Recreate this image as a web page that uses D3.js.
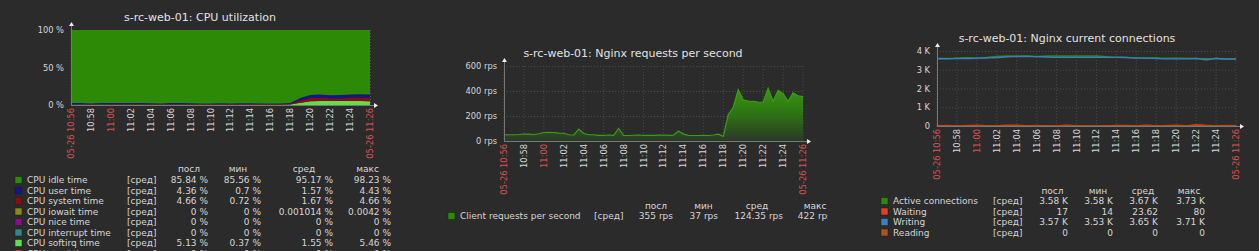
<!DOCTYPE html>
<html>
<head>
<meta charset="utf-8">
<script src="https://cdn.jsdelivr.net/npm/d3@7"></script>
<style>
  body { margin: 0; background: #2b2b2b; }
  svg { display: block; font-family: "DejaVu Sans", sans-serif; }
</style>
</head>
<body>
<div class="chart"></div>
<script>
// ---- data ----
const timeTicks = ["10:56", "10:58", "11:00", "11:02", "11:04", "11:06", "11:08", "11:10",
  "11:12", "11:14", "11:16", "11:18", "11:20", "11:22", "11:24", "11:26"];
const redTicks = ["10:56", "11:00", "11:26"];
const dayLabel = "05-26";

// cpu, one value per minute 10:56 .. 11:26 (%)
const cpuIdle = [97.45, 97.35, 98.05, 97.45, 97.45, 97.45, 97.45, 97.45, 97.55, 98.05, 97.45,
  97.45, 97.55, 98.05, 98.05, 97.65, 98.05, 97.55, 97.55, 98.15, 98.05, 97.95,
  97.3, 90.8, 86.6, 86.1, 86.9, 86.8, 85.84, 85.71, 85.85];
const cpuUser = [1.4, 1.5, 0.8, 1.4, 1.4, 1.4, 1.4, 1.4, 1.3, 0.8, 1.4, 1.4, 1.3, 0.8, 0.8, 1.2,
  0.8, 1.3, 1.3, 0.7, 0.8, 0.9, 1.0, 3.2, 4.2, 4.3, 4.2, 4.4, 4.3, 4.43, 4.36];
const cpuSystem = [0.75, 0.75, 0.75, 0.75, 0.75, 0.75, 0.75, 0.75, 0.75, 0.75, 0.75, 0.75, 0.75,
  0.75, 0.75, 0.75, 0.75, 0.75, 0.75, 0.75, 0.75, 0.75, 0.9, 3.0, 4.3, 4.4, 3.6, 3.4, 4.4, 4.66, 4.66];
const cpuIowait = [0, 0, 0, 0, 0, 0.0042, 0, 0, 0, 0, 0, 0, 0, 0, 0, 0, 0, 0, 0, 0, 0, 0, 0, 0,
  0, 0, 0, 0, 0, 0, 0];
const cpuNice = [0, 0, 0, 0, 0, 0, 0, 0, 0, 0, 0, 0, 0, 0, 0, 0, 0, 0, 0, 0, 0, 0, 0, 0, 0, 0, 0, 0, 0, 0, 0];
const cpuInterrupt = [0, 0, 0, 0, 0, 0, 0, 0, 0, 0, 0, 0, 0, 0, 0, 0, 0, 0, 0, 0, 0, 0, 0, 0, 0, 0, 0, 0, 0, 0, 0];
const cpuSoftirq = [0.4, 0.4, 0.4, 0.4, 0.4, 0.4, 0.4, 0.4, 0.4, 0.4, 0.4, 0.4, 0.4, 0.4, 0.4, 0.4,
  0.4, 0.4, 0.4, 0.4, 0.4, 0.4, 0.8, 3.0, 4.9, 5.2, 5.3, 5.4, 5.46, 5.2, 5.13];
const cpuSteal = [0, 0, 0, 0, 0, 0, 0, 0, 0, 0, 0, 0, 0, 0, 0, 0, 0, 0, 0, 0, 0, 0, 0, 0, 0, 0, 0, 0, 0, 0, 0];

const cpuNames = ["CPU idle time", "CPU user time", "CPU system time", "CPU iowait time",
  "CPU nice time", "CPU interrupt time", "CPU softirq time", "CPU steal time"];
const cpuColors = ["#2c8a07", "#14148c", "#8a0c0c", "#8a8a0c", "#8a0c8a", "#2a8a8a", "#5ee04a", "#e04a3c"];
const cpuLast = ["85.84 %", "4.36 %", "4.66 %", "0 %", "0 %", "0 %", "5.13 %", "0 %"];
const cpuMin = ["85.56 %", "0.7 %", "0.72 %", "0 %", "0 %", "0 %", "0.37 %", "0 %"];
const cpuAvg = ["95.17 %", "1.57 %", "1.67 %", "0.001014 %", "0 %", "0 %", "1.55 %", "0 %"];
const cpuMax = ["98.23 %", "4.43 %", "4.66 %", "0.0042 %", "0 %", "0 %", "5.46 %", "0 %"];

// nginx rps, one value every 30 s
const rps = [50, 50, 50, 52, 56, 55, 52, 58, 68, 70, 68, 63, 62, 50, 48, 95, 60, 50, 50, 45,
  45, 48, 45, 100, 45, 44, 46, 48, 45, 45, 45, 47, 48, 45, 46, 80, 55, 45, 44, 44,
  45, 44, 48, 55, 37, 210, 270, 410, 330, 320, 318, 312, 310, 422, 318, 405, 380, 318, 385, 362, 355];
const rpsNames = ["Client requests per second"];
const rpsLast = ["355 rps"], rpsMin = ["37 rps"], rpsAvg = ["124.35 rps"], rpsMax = ["422 rps"];

// nginx connections, one value per minute
const connActive = [3600, 3600, 3610, 3640, 3620, 3660, 3710, 3730, 3730, 3730, 3710, 3730, 3730,
  3730, 3730, 3730, 3730, 3700, 3670, 3660, 3640, 3620, 3630, 3610, 3610, 3610, 3600, 3590, 3600, 3580, 3580];
const connWriting = [3590, 3590, 3600, 3600, 3610, 3630, 3650, 3690, 3700, 3710, 3700, 3680, 3670,
  3670, 3670, 3670, 3670, 3660, 3660, 3650, 3620, 3620, 3600, 3580, 3580, 3580, 3600, 3530, 3600, 3570, 3570];
const connWaiting = [17, 40, 14, 30, 45, 14, 14, 50, 50, 14, 40, 14, 14, 45, 14, 14, 14, 14, 40, 40,
  14, 50, 14, 30, 50, 20, 80, 40, 14, 40, 17];
const connReading = [0, 0, 0, 0, 0, 0, 0, 0, 0, 0, 0, 0, 0, 0, 0, 0, 0, 0, 0, 0, 0, 0, 0, 0, 0, 0, 0, 0, 0, 0, 0];
const connNames = ["Active connections", "Waiting", "Writing", "Reading"];
const connColors = ["#2c8a07", "#e0401c", "#3a7fc0", "#a8541c"];
const connLast = ["3.58 K", "17", "3.57 K", "0"];
const connMin = ["3.58 K", "14", "3.53 K", "0"];
const connAvg = ["3.67 K", "23.62", "3.65 K", "0"];
const connMax = ["3.73 K", "80", "3.71 K", "0"];

const cpuTicks = [0, 50, 100];
const rpsTicks = [0, 200, 400, 600];
const connTicks = [0, 1000, 2000, 3000, 4000];

// ---- setup ----
const W = 1259, H = 251;
const textColor = "#d6d6d6", redColor = "#d9534f", gridColor = "#4a4a4a", axisColor = "#777";
const parseT = d3.timeParse("%H:%M");
const t0 = parseT("10:56"), t1 = parseT("11:26");
const perMinute = d3.timeMinute.range(t0, d3.timeSecond.offset(t1, 1));
const perHalfMinute = d3.timeSecond.every(30).range(t0, d3.timeSecond.offset(t1, 1));

const svg = d3.select(".chart").append("svg").attr("width", W).attr("height", H);
svg.append("rect").attr("width", W).attr("height", H).attr("fill", "#2b2b2b");
const defs = svg.append("defs");

function frame(g, p, yScale, ticks, fmt, title) {
  const x = d3.scaleTime().domain([t0, t1]).range([p.x0, p.x1]);

  g.append("text").attr("x", p.tx).attr("y", p.ty)
    .attr("text-anchor", "middle").attr("dominant-baseline", "central")
    .attr("font-size", 11).attr("fill", "#e2e2e2").text(title);

  // grid
  g.append("g").selectAll("line").data(timeTicks).join("line")
    .attr("x1", d => x(parseT(d))).attr("x2", d => x(parseT(d)))
    .attr("y1", p.y0).attr("y2", p.y1)
    .attr("stroke", gridColor).attr("stroke-dasharray", "1,2");
  g.append("g").selectAll("line").data(ticks.slice(1)).join("line")
    .attr("x1", p.x0).attr("x2", p.x1)
    .attr("y1", d => yScale(d) + 0.5).attr("y2", d => yScale(d) + 0.5)
    .attr("stroke", gridColor).attr("stroke-dasharray", "1,2");

  // y labels
  g.append("g").selectAll("text").data(ticks).join("text")
    .attr("x", p.x0 - 7).attr("y", d => yScale(d))
    .attr("text-anchor", "end").attr("dominant-baseline", "central")
    .attr("font-size", 8.3).attr("fill", textColor).text(fmt);

  // time labels
  g.append("g").selectAll("text").data(timeTicks).join("text")
    .attr("transform", d => `translate(${x(parseT(d))},${p.y1 + 3}) rotate(-90)`)
    .attr("text-anchor", "end").attr("dominant-baseline", "central")
    .attr("font-size", 8.3)
    .attr("fill", d => redTicks.includes(d) ? redColor : textColor)
    .text((d, i) => (i === 0 || i === timeTicks.length - 1) ? dayLabel + " " + d : d);
  return x;
}

function axes(g, p) {
  g.append("line").attr("x1", p.x0 + 0.5).attr("x2", p.x0 + 0.5).attr("y1", p.y0 - 4).attr("y2", p.y1)
    .attr("stroke", axisColor);
  g.append("line").attr("x1", p.x0).attr("x2", p.x1 + 4).attr("y1", p.y1 + 0.5).attr("y2", p.y1 + 0.5)
    .attr("stroke", axisColor);
  g.append("path").attr("d", `M${p.x0 - 2},${p.y0 - 4}L${p.x0 + 3},${p.y0 - 4}L${p.x0 + 0.5},${p.y0 - 8}Z`)
    .attr("fill", "#eee");
  g.append("path").attr("d", `M${p.x1 + 4},${p.y1 - 2}L${p.x1 + 4},${p.y1 + 3}L${p.x1 + 8},${p.y1 + 0.5}Z`)
    .attr("fill", "#eee");
}

function legend(g, L, names, colors, stats) {
  const heads = ["посл", "мин", "сред", "макс"];
  g.append("g").selectAll("text").data(heads).join("text")
    .attr("x", (d, i) => L.heads[i]).attr("y", L.headY)
    .attr("text-anchor", "middle").attr("dominant-baseline", "central")
    .attr("font-size", 9).attr("fill", textColor).text(d => d);
  const rows = g.append("g").selectAll("g").data(names).join("g")
    .attr("transform", (d, i) => `translate(0,${L.rowY0 + i * 10.5})`);
  rows.append("rect").attr("x", L.sqX).attr("y", -3.5).attr("width", 7).attr("height", 7)
    .attr("fill", (d, i) => colors[i]).attr("stroke", "#1c1c1c").attr("stroke-width", 0.5);
  rows.append("text").attr("x", L.textX).attr("dominant-baseline", "central")
    .attr("font-size", 9).attr("fill", textColor).text(d => d);
  rows.append("text").attr("x", L.fnX).attr("dominant-baseline", "central")
    .attr("font-size", 9).attr("fill", textColor).text("[сред]");
  stats.forEach((col, c) => {
    rows.append("text").attr("x", L.cols[c]).attr("text-anchor", "end")
      .attr("dominant-baseline", "central")
      .attr("font-size", 9).attr("fill", textColor).text((d, i) => col[i]);
  });
}

// ---- chart 1: CPU utilization ----
{
  const p = { x0: 71, x1: 370, y0: 30, y1: 105, tx: 200, ty: 17 };
  const g = svg.append("g");
  const y = d3.scaleLinear().domain([0, 100]).range([p.y1, p.y0]);
  const x = frame(g, p, y, cpuTicks, d => d + " %", "s-rc-web-01: CPU utilization");
  g.append("line").attr("x1", p.x1 + 0.5).attr("x2", p.x1 + 0.5).attr("y1", p.y0).attr("y2", p.y1)
    .attr("stroke", "#555").attr("stroke-dasharray", "1,2");

  const rowsData = perMinute.map((t, i) => ({
    t, idle: cpuIdle[i], user: cpuUser[i], system: cpuSystem[i], iowait: cpuIowait[i],
    nice: cpuNice[i], interrupt: cpuInterrupt[i], softirq: cpuSoftirq[i], steal: cpuSteal[i]
  }));
  const keys = ["steal", "softirq", "interrupt", "nice", "iowait", "system", "user", "idle"];
  const keyColor = { idle: cpuColors[0], user: cpuColors[1], system: cpuColors[2], iowait: cpuColors[3],
    nice: cpuColors[4], interrupt: cpuColors[5], softirq: cpuColors[6], steal: cpuColors[7] };
  const stacked = d3.stack().keys(keys)(rowsData);
  const area = d3.area().x(d => x(d.data.t)).y0(d => y(d[0])).y1(d => y(Math.min(100, d[1])));
  g.append("g").selectAll("path").data(stacked).join("path")
    .attr("d", area).attr("fill", d => keyColor[d.key]);
  axes(g, p);

  legend(g, { sqX: 15, textX: 27, fnX: 127, cols: [208, 261, 333, 391],
    heads: [189, 238, 304, 367.5], headY: 169, rowY0: 180 },
    cpuNames, cpuColors, [cpuLast, cpuMin, cpuAvg, cpuMax]);
}

// ---- chart 2: Nginx requests per second ----
{
  const p = { x0: 504, x1: 803, y0: 66, y1: 141, tx: 633, ty: 53 };
  defs.append("clipPath").attr("id", "clip2").append("rect")
    .attr("x", 420).attr("y", 0).attr("width", 408).attr("height", H);
  const g = svg.append("g").attr("clip-path", "url(#clip2)");
  const y = d3.scaleLinear().domain([0, 600]).range([p.y1, p.y0]);
  const x = frame(g, p, y, rpsTicks, d => d + " rps", "s-rc-web-01: Nginx requests per second");

  const grad = defs.append("linearGradient").attr("id", "rpsGrad")
    .attr("gradientUnits", "userSpaceOnUse").attr("x1", 0).attr("x2", 0)
    .attr("y1", y(450)).attr("y2", y(0));
  grad.append("stop").attr("offset", 0).attr("stop-color", "#3a9a12");
  grad.append("stop").attr("offset", 0.45).attr("stop-color", "#2f7a12");
  grad.append("stop").attr("offset", 1).attr("stop-color", "#2c3828");

  const pts = perHalfMinute.map((t, i) => ({ t, v: rps[i] }));
  g.append("path").datum(pts)
    .attr("d", d3.area().x(d => x(d.t)).y0(p.y1).y1(d => y(d.v)))
    .attr("fill", "url(#rpsGrad)");
  g.append("path").datum(pts)
    .attr("d", d3.line().x(d => x(d.t)).y(d => y(d.v)))
    .attr("fill", "none").attr("stroke", "#3c9c16").attr("stroke-width", 1.2);
  axes(g, p);

  legend(g, { sqX: 448, textX: 460, fnX: 594, cols: [673, 718, 783, 832],
    heads: [656, 703.5, 757, 815], headY: 206, rowY0: 216 },
    rpsNames, ["#2c8a07"], [rpsLast, rpsMin, rpsAvg, rpsMax]);
}

// ---- chart 3: Nginx current connections ----
{
  const p = { x0: 937, x1: 1236, y0: 51, y1: 126, tx: 1067, ty: 38 };
  const g = svg.append("g");
  const y = d3.scaleLinear().domain([0, 4000]).range([p.y1, p.y0]);
  const x = frame(g, p, y, connTicks, d => d === 0 ? "0" : (d / 1000) + " K",
    "s-rc-web-01: Nginx current connections");

  const series = [connActive, connWaiting, connWriting, connReading];
  const line = d3.line().x(d => x(d.t)).y(d => y(d.v)).curve(d3.curveMonotoneX);
  const ptsOf = arr => perMinute.map((t, i) => ({ t, v: arr[i] }));

  g.append("path").datum(ptsOf(connWaiting))
    .attr("d", d3.area().x(d => x(d.t)).y0(p.y1).y1(d => y(d.v)).curve(d3.curveMonotoneX))
    .attr("fill", connColors[1]).attr("stroke", connColors[1]).attr("stroke-width", 1.2)
    .attr("opacity", 0.85);
  [0, 2, 3].forEach(k => {
    g.append("path").datum(ptsOf(series[k])).attr("d", line)
      .attr("fill", "none").attr("stroke", connColors[k]).attr("stroke-width", 1.4);
  });
  axes(g, p);

  legend(g, { sqX: 881, textX: 893, fnX: 993, cols: [1068, 1113, 1158, 1205],
    heads: [1052.5, 1098, 1143, 1189], headY: 191, rowY0: 201 },
    connNames, connColors, [connLast, connMin, connAvg, connMax]);
}
</script>
</body>
</html>
